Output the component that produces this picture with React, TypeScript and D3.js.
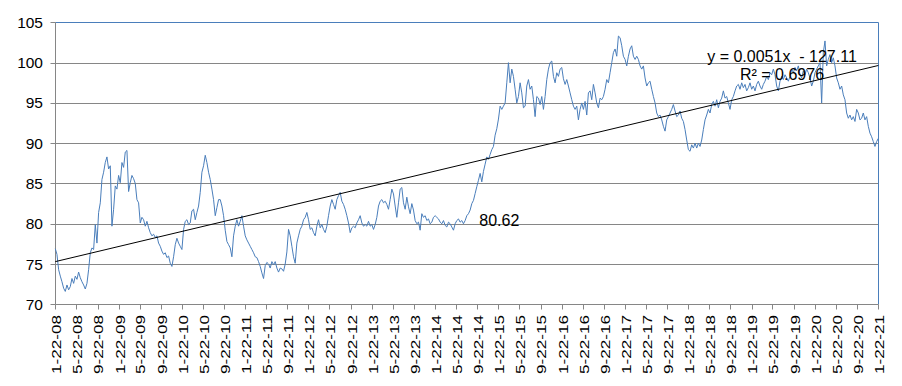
import React from 'react';
import * as d3 from 'd3';

// x axis labels, every 4 months
const tickLabels = [
  '1-22-08', '5-22-08', '9-22-08', '1-22-09', '5-22-09', '9-22-09', '1-22-10', '5-22-10', '9-22-10',
  '1-22-11', '5-22-11', '9-22-11', '1-22-12', '5-22-12', '9-22-12', '1-22-13', '5-22-13', '9-22-13',
  '1-22-14', '5-22-14', '9-22-14', '1-22-15', '5-22-15', '9-22-15', '1-22-16', '5-22-16', '9-22-16',
  '1-22-17', '5-22-17', '9-22-17', '1-22-18', '5-22-18', '9-22-18', '1-22-19', '5-22-19', '9-22-19',
  '1-22-20', '5-22-20', '9-22-20', '1-22-21'
];

const yTicks = [70, 75, 80, 85, 90, 95, 100, 105];

// values, evenly spaced in time, split by stretch
const vals2008 = [
  76.9, 76.2, 74.3, 73.5, 72.8, 72.0, 71.6, 72.4, 71.8, 72.2,
  73.2, 72.6, 73.5, 73.1, 74.0, 73.3, 72.8, 72.4, 71.9, 72.6,
  74.3, 76.4, 77.0, 76.8, 79.9, 77.6, 81.4, 82.6, 85.5, 86.4,
  87.6, 88.3, 86.8, 87.2, 79.7, 81.8, 84.7, 84.3, 86.0, 85.1,
  87.6, 87.0, 88.9, 89.1, 84.0, 85.1, 86.0, 85.6, 85.0, 83.0,
  82.6, 80.1, 80.8, 80.5, 79.7, 80.3, 79.5, 78.9, 78.5, 78.7,
  78.3, 78.5, 77.6, 77.2, 76.6, 76.2, 76.4, 75.8, 76.0, 75.1
];
const vals2010 = [
  74.7, 75.9, 77.4, 78.2, 77.6, 77.2, 76.8, 79.3, 80.3, 80.5,
  79.9, 80.1, 81.6, 81.8, 80.5, 81.4, 82.2, 83.9, 86.4, 87.2,
  88.5, 87.6, 86.4, 85.5, 84.3, 83.0, 81.0, 82.0, 83.0, 83.0,
  82.2, 81.0, 79.2, 77.8, 77.4, 77.0, 75.9, 78.5, 79.7, 80.5,
  79.7, 80.3, 81.0, 79.7, 78.5, 78.0, 77.6, 77.2, 76.8, 76.4,
  75.9, 75.8, 75.3, 74.7, 73.9, 73.2, 74.8, 75.2, 75.0, 74.5,
  75.3, 74.9, 75.3, 74.5, 74.0, 74.5, 74.4, 74.1, 75.0, 76.5
];
const vals2012 = [
  79.3, 78.5, 77.2, 75.9, 75.1, 77.6, 78.5, 79.3, 79.7, 80.5,
  80.8, 81.4, 80.5, 79.3, 79.5, 78.9, 78.5, 79.7, 80.5, 79.5,
  79.9, 79.3, 78.9, 79.7, 81.0, 82.2, 83.0, 82.4, 81.8, 83.0,
  83.5, 83.9, 82.8, 82.4, 81.8, 81.0, 80.1, 78.9, 79.5, 79.7,
  79.5, 80.1, 80.5, 81.0, 80.1, 79.7, 79.9, 79.7, 80.3, 79.7,
  79.9, 79.3, 79.9, 80.8, 82.2, 82.8, 83.0, 82.6, 82.8, 82.4,
  81.8, 83.0, 84.3, 83.7, 82.2, 80.8, 82.6, 84.3, 84.5, 82.6,
  81.8
];
const vals2014 = [
  83.3, 82.1, 81.25, 82.5, 81.7, 80.4, 80.0, 80.2, 79.2, 81.25,
  80.8, 81.0, 80.4, 80.6, 80.0, 80.2, 80.8, 81.0, 80.8, 80.6,
  80.2, 80.0, 80.4, 79.8, 79.6, 80.2, 80.0, 79.6, 79.2, 80.0,
  80.4, 80.6, 80.2, 80.4, 80.0, 80.4, 81.0, 81.25, 81.7, 82.5,
  82.9, 83.75, 84.6, 85.4, 86.25, 85.2, 86.5, 87.4, 88.3, 88.0,
  88.6, 89.2, 89.6, 91.0, 91.8, 93.0, 94.6, 94.2, 94.6, 95.0,
  97.5, 100.0, 97.5, 99.2, 98.3, 96.7, 95.0, 95.8, 97.5, 96.25,
  94.4
];
const vals2016 = [
  94.6, 97.1, 97.9, 96.7, 97.1, 95.4, 93.3, 95.8, 95.6, 94.8,
  95.8, 94.2, 95.8, 97.9, 99.2, 100.0, 100.2, 98.3, 97.5, 98.75,
  98.3, 99.2, 99.4, 98.0, 97.3, 97.9, 97.1, 96.25, 95.4, 94.6,
  94.2, 94.6, 92.9, 94.2, 95.0, 94.2, 95.2, 93.5, 96.25, 96.5,
  95.4, 97.3, 96.25, 95.0, 94.4, 95.6, 95.4, 95.8, 96.7, 97.9,
  97.5, 98.75, 100.0, 101.25, 101.7, 100.8, 103.3, 103.1, 102.1, 100.8,
  100.4, 99.6, 100.8, 101.7, 102.1, 100.8, 100.4, 100.8, 100.4, 99.6
];
const vals2018 = [
  99.2, 99.6, 98.1, 97.1, 97.5, 97.7, 96.7, 95.8, 95.0, 93.75,
  93.3, 93.5, 92.9, 92.1, 91.5, 92.9, 93.3, 93.75, 94.2, 94.8,
  94.0, 93.3, 93.5, 94.0, 93.1, 92.7, 91.7, 90.4, 89.2, 89.0,
  89.8, 89.4, 90.0, 89.4, 90.0, 89.6, 90.4, 91.7, 92.9, 93.5,
  94.2, 93.75, 94.8, 95.2, 94.6, 95.4, 94.4, 95.2, 95.6, 96.5,
  95.6, 95.8, 95.0, 94.2, 95.4, 95.8, 96.5, 97.1, 97.3, 96.7,
  97.5, 96.9, 97.3, 96.5, 96.9, 97.5, 96.7, 97.1, 96.5, 97.3,
  97.7
];
const vals2019 = [
  97.1, 96.7, 97.3, 97.7, 98.3, 97.9, 98.75, 98.5, 99.2, 98.5,
  97.1, 96.5, 97.7, 98.3, 97.9, 98.5, 98.1, 97.7, 98.3, 99.2,
  98.75, 99.4, 99.0, 99.6, 98.5, 98.1, 99.0, 98.5, 99.2, 98.75,
  98.1, 97.1, 97.7, 98.75, 99.2, 99.6, 100.0, 95.0, 101.25, 102.7,
  99.6, 100.4, 101.0, 100.0, 100.6, 99.6, 98.1, 97.5, 96.7, 97.1,
  96.0, 95.4, 93.75, 93.1, 93.5, 92.9, 93.3, 92.7, 94.2, 93.75,
  92.9, 93.1, 93.75, 92.9, 93.3, 92.1, 91.25, 90.8, 90.2, 89.6,
  90.2, 90.6
];

const trendEnds = [75.3, 99.65];
const equationText = 'y = 0.0051x  - 127.11';
const rSquaredText = 'R² = 0.6976';
const calloutText = '80.62';

const W = 902;
const H = 386;
const left = 55.3, right = 878.3, top = 22.4, bottom = 304.3;
const font = '"Liberation Sans", Arial, sans-serif';
const blue = '#4a7ebb';
const grey = '#868686';

const parse = d3.timeParse('%m-%d-%y');

export default function App() {
  const values = [...vals2008, ...vals2010, ...vals2012, ...vals2014, ...vals2016, ...vals2018, ...vals2019];
  const tickDates = tickLabels.map(s => parse(s) as Date);
  const start = tickDates[0];
  const end = tickDates[tickDates.length - 1];
  const step = (+end - +start) / (values.length - 1);
  const series = values.map((v, i) => ({ date: new Date(+start + i * step), value: v }));

  const x = d3.scaleTime().domain([start, end]).range([left, right]);
  const y = d3.scaleLinear().domain([70, 105]).range([bottom, top]);
  const snap = (v: number) => Math.round(v) + 0.5;

  const line = d3.line<{ date: Date; value: number }>()
    .x(d => x(d.date))
    .y(d => y(d.value));

  const trend = d3.line<[Date, number]>()
    .x(d => x(d[0]))
    .y(d => y(d[1]))([[start, trendEnds[0]], [end, trendEnds[1]]]);

  return (
    <svg width={W} height={H} style={{ position: 'absolute', left: 0, top: 0, background: '#fff' }}>
      {/* gridlines */}
      {yTicks.filter(t => t > 70 && t < 105).map(t => (
        <line key={t} x1={left} x2={right} y1={snap(y(t))} y2={snap(y(t))} stroke={grey} strokeWidth={1} />
      ))}
      {/* plot border top/right */}
      <line x1={left} x2={snap(right)} y1={snap(y(105))} y2={snap(y(105))} stroke={blue} strokeWidth={1} />
      <line x1={snap(right)} x2={snap(right)} y1={snap(y(105))} y2={snap(bottom)} stroke={blue} strokeWidth={1} />

      {/* axes */}
      <line x1={snap(left)} x2={snap(left)} y1={snap(y(105))} y2={snap(bottom)} stroke={grey} />
      <line x1={snap(left)} x2={snap(right)} y1={snap(bottom)} y2={snap(bottom)} stroke={grey} />
      {yTicks.map(t => (
        <g key={t}>
          <line x1={snap(left) - 5} x2={snap(left)} y1={snap(y(t))} y2={snap(y(t))} stroke={grey} />
          <text x={43} y={y(t) + 5.5} textAnchor="end" fontFamily={font} fontSize={15.5} fill="#000">{t}</text>
        </g>
      ))}
      {tickDates.map((d, i) => (
        <g key={i}>
          <line x1={snap(x(d))} x2={snap(x(d))} y1={snap(bottom)} y2={snap(bottom) + 5} stroke={grey} />
          <text
            transform={`translate(${x(d) + 1.5},374) rotate(-90)`}
            dy="0.35em"
            fontFamily={font}
            fontSize={12.5}
            textLength={59}
            lengthAdjust="spacingAndGlyphs"
            fill="#000"
          >{tickLabels[i]}</text>
        </g>
      ))}

      {/* series */}
      <path d={line(series) ?? ''} fill="none" stroke={blue} strokeWidth={1} strokeLinejoin="round" />
      {/* linear trend */}
      <path d={trend ?? ''} fill="none" stroke="#000" strokeWidth={1} />

      {/* annotations */}
      <text x={479.3} y={226} fontFamily={font} fontSize={16} fill="#000">{calloutText}</text>
      <text x={782} y={62} textAnchor="middle" fontFamily={font} fontSize={16} fill="#000" style={{ whiteSpace: 'pre' }}>{equationText}</text>
      <text x={782} y={80} textAnchor="middle" fontFamily={font} fontSize={16} fill="#000">{rSquaredText}</text>
    </svg>
  );
}
